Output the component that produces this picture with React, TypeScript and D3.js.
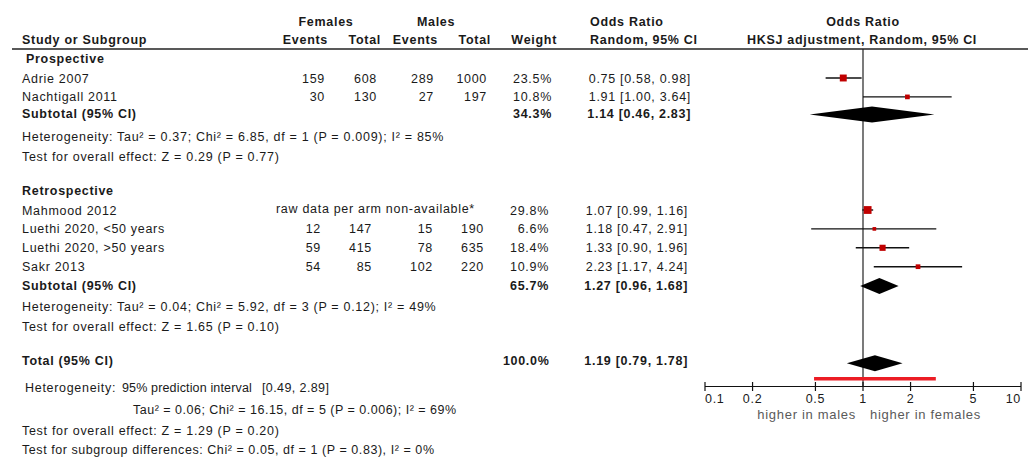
import React from "react";
import * as d3 from "d3";

// ---- Study-level data ----
const studies = [
  "Adrie 2007",
  "Nachtigall 2011",
  "Mahmood 2012",
  "Luethi 2020, <50 years",
  "Luethi 2020, >50 years",
  "Sakr 2013",
];
const studyGroup = [0, 0, 1, 1, 1, 1];
const femaleEvents: (number | null)[] = [159, 30, null, 12, 59, 54];
const femaleTotal: (number | null)[] = [608, 130, null, 147, 415, 85];
const maleEvents: (number | null)[] = [289, 27, null, 15, 78, 102];
const maleTotal: (number | null)[] = [1000, 197, null, 190, 635, 220];
const weights = [23.5, 10.8, 29.8, 6.6, 18.4, 10.9];
const oddsRatios = [0.75, 1.91, 1.07, 1.18, 1.33, 2.23];
const ciLow = [0.58, 1.0, 0.99, 0.47, 0.9, 1.17];
const ciHigh = [0.98, 3.64, 1.16, 2.91, 1.96, 4.24];
const missingArmNote = "raw data per arm non-available*";

// ---- Subgroup data ----
const groups = ["Prospective", "Retrospective"];
const groupWeights = [34.3, 65.7];
const groupOR = [1.14, 1.27];
const groupLow = [0.46, 0.96];
const groupHigh = [2.83, 1.68];
const groupHeterogeneity = [
  "Heterogeneity: Tau\u00b2 = 0.37; Chi\u00b2 = 6.85, df = 1 (P = 0.009); I\u00b2 = 85%",
  "Heterogeneity: Tau\u00b2 = 0.04; Chi\u00b2 = 5.92, df = 3 (P = 0.12); I\u00b2 = 49%",
];
const groupOverall = [
  "Test for overall effect: Z = 0.29 (P = 0.77)",
  "Test for overall effect: Z = 1.65 (P = 0.10)",
];

// ---- Pooled data ----
const totalWeight = 100.0;
const totalOR = 1.19;
const totalLow = 0.79;
const totalHigh = 1.78;
const predictionLow = 0.49;
const predictionHigh = 2.89;
const totalNotes = {
  heterogeneity: "Heterogeneity:",
  prediction: "95% prediction interval",
  tau: "Tau\u00b2 = 0.06; Chi\u00b2 = 16.15, df = 5 (P = 0.006); I\u00b2 = 69%",
  overall: "Test for overall effect: Z = 1.29 (P = 0.20)",
  subgroups: "Test for subgroup differences: Chi\u00b2 = 0.05, df = 1 (P = 0.83), I\u00b2 = 0%",
};

// ---- Axis ----
const axisTicks = [0.1, 0.2, 0.5, 1, 2, 5, 10];
const favoursLeft = "higher in males";
const favoursRight = "higher in females";

// ---- Layout ----
const W = 1028;
const H = 459;
const FONT = "'Liberation Sans', Arial, Helvetica, sans-serif";
const FS = 12.5;
const LS = 0.7;
const TEXT = "#1a1a1a";
const groupHeaderY = [63, 194.5];
const firstRowY = [82.5, 214.5];
const rowStep = 18.9;
const subtotalY = [118, 289.5];
const hetY = [140.5, 310.5];
const overallY = [160.5, 330.5];
const totalY = 365;
const colX = [
  { fe: 325, ft: 377, me: 434, mt: 487, w: 552, or: 691 },
  { fe: 321, ft: 372, me: 433, mt: 484, w: 549, or: 688 },
];
const axisY = 386.5;
const predY = 378.7;

const x = d3.scaleLog().domain([0.1, 10]).range([705, 1021]);
const size = d3.scaleSqrt().domain([0, 29.8]).range([0, 7.8]);
const f2 = d3.format(".2f");
const f1 = d3.format(".1f");
const orText = (o: number, l: number, h: number) => `${f2(o)} [${f2(l)}, ${f2(h)}]`;
const ciText = (l: number, h: number) => `[${f2(l)}, ${f2(h)}]`;

type TProps = {
  x: number;
  y: number;
  anchor?: "start" | "middle" | "end";
  bold?: boolean;
  fill?: string;
  size?: number;
  ls?: number;
  children: React.ReactNode;
};
const T = ({ x, y, anchor = "start", bold = false, fill = TEXT, size = FS, ls = LS, children }: TProps) => (
  <text
    x={x}
    y={y}
    textAnchor={anchor}
    fontFamily={FONT}
    fontSize={size}
    fontWeight={bold ? "bold" : "normal"}
    letterSpacing={ls}
    fill={fill}
  >
    {children}
  </text>
);

const diamond = (o: number, l: number, h: number, cy: number, hh = 8) =>
  `M${x(l)},${cy}L${x(o)},${cy - hh}L${x(h)},${cy}L${x(o)},${cy + hh}Z`;

export default function App() {
  const rowIndexInGroup: number[] = [];
  const counters = [0, 0];
  studyGroup.forEach((g) => {
    rowIndexInGroup.push(counters[g]);
    counters[g] += 1;
  });
  const rowY = (i: number) => firstRowY[studyGroup[i]] + rowIndexInGroup[i] * rowStep;

  return (
    <svg
      width={W}
      height={H}
      style={{ position: "absolute", left: 0, top: 0, background: "#fff", display: "block" }}
    >
      <rect width={W} height={H} fill="#fff" />

      {/* column headers */}
      <T x={326} y={26} anchor="middle" bold>Females</T>
      <T x={436} y={26} anchor="middle" bold>Males</T>
      <T x={590} y={26} bold>Odds Ratio</T>
      <T x={863} y={26} anchor="middle" bold>Odds Ratio</T>
      <T x={22} y={44} bold>Study or Subgroup</T>
      <T x={328} y={44} anchor="end" bold>Events</T>
      <T x={381} y={44} anchor="end" bold>Total</T>
      <T x={438} y={44} anchor="end" bold>Events</T>
      <T x={491} y={44} anchor="end" bold>Total</T>
      <T x={557} y={44} anchor="end" bold>Weight</T>
      <T x={590} y={44} bold>Random, 95% CI</T>
      <T x={862} y={44} anchor="middle" bold>HKSJ adjustment, Random, 95% CI</T>
      <line x1={12} x2={W} y1={49} y2={49} stroke="#222" strokeWidth={1.5} />

      {/* line of no effect */}
      <line x1={x(1)} x2={x(1)} y1={49} y2={axisY} stroke="#222" strokeWidth={1.2} />

      {/* subgroups */}
      {groups.map((g, gi) => (
        <g key={g}>
          <T x={gi === 0 ? 26 : 22} y={groupHeaderY[gi]} bold>{g}</T>
          <T x={22} y={subtotalY[gi]} bold>Subtotal (95% CI)</T>
          <T x={colX[gi].w} y={subtotalY[gi]} anchor="end" bold>{f1(groupWeights[gi])}%</T>
          <T x={colX[gi].or} y={subtotalY[gi]} anchor="end" bold>
            {orText(groupOR[gi], groupLow[gi], groupHigh[gi])}
          </T>
          <T x={22} y={hetY[gi]}>{groupHeterogeneity[gi]}</T>
          <T x={22} y={overallY[gi]}>{groupOverall[gi]}</T>
          <path d={diamond(groupOR[gi], groupLow[gi], groupHigh[gi], subtotalY[gi] - 3.5)} fill="#000" />
        </g>
      ))}

      {/* studies */}
      {studies.map((s, i) => {
        const c = colX[studyGroup[i]];
        const y = rowY(i);
        const cy = y - 4.5;
        const sz = size(weights[i]);
        return (
          <g key={s}>
            <T x={22} y={y}>{s}</T>
            {femaleEvents[i] == null ? (
              <T x={276} y={y - 2}>{missingArmNote}</T>
            ) : (
              <>
                <T x={c.fe} y={y} anchor="end">{femaleEvents[i]}</T>
                <T x={c.ft} y={y} anchor="end">{femaleTotal[i]}</T>
                <T x={c.me} y={y} anchor="end">{maleEvents[i]}</T>
                <T x={c.mt} y={y} anchor="end">{maleTotal[i]}</T>
              </>
            )}
            <T x={c.w} y={y} anchor="end">{f1(weights[i])}%</T>
            <T x={c.or} y={y} anchor="end">{orText(oddsRatios[i], ciLow[i], ciHigh[i])}</T>
            <line x1={x(ciLow[i])} x2={x(ciHigh[i])} y1={cy} y2={cy} stroke="#111" strokeWidth={1.4} />
            <rect x={x(oddsRatios[i]) - sz / 2} y={cy - sz / 2} width={sz} height={sz} fill="#c00000" />
          </g>
        );
      })}

      {/* overall */}
      <T x={22} y={totalY} bold>Total (95% CI)</T>
      <T x={549.5} y={totalY} anchor="end" bold>{f1(totalWeight)}%</T>
      <T x={688} y={totalY} anchor="end" bold>{orText(totalOR, totalLow, totalHigh)}</T>
      <path d={diamond(totalOR, totalLow, totalHigh, 363.3)} fill="#000" />
      <line x1={x(predictionLow)} x2={x(predictionHigh)} y1={predY} y2={predY} stroke="#ec1c24" strokeWidth={3.5} />

      <T x={25} y={392}>{totalNotes.heterogeneity}</T>
      <T x={122} y={392} ls={0.15}>{totalNotes.prediction}</T>
      <T x={262} y={392} ls={0.4}>{ciText(predictionLow, predictionHigh)}</T>
      <T x={133} y={414} ls={0.5}>{totalNotes.tau}</T>
      <T x={22} y={435}>{totalNotes.overall}</T>
      <T x={22} y={454} ls={0.56}>{totalNotes.subgroups}</T>

      {/* axis */}
      <line x1={x(0.1)} x2={x(10)} y1={axisY} y2={axisY} stroke="#111" strokeWidth={1.2} />
      {axisTicks.map((t, i) => (
        <g key={t}>
          <line x1={x(t)} x2={x(t)} y1={axisY - 4.5} y2={axisY + 4.5} stroke="#111" strokeWidth={1.2} />
          <T
            x={x(t)}
            y={403}
            anchor={i === 0 ? "start" : i === axisTicks.length - 1 ? "end" : "middle"}
          >
            {String(t)}
          </T>
        </g>
      ))}
      <T x={856} y={419} anchor="end" fill="#5a5a5a" size={13}>{favoursLeft}</T>
      <T x={870} y={419} fill="#5a5a5a" size={13}>{favoursRight}</T>
    </svg>
  );
}
